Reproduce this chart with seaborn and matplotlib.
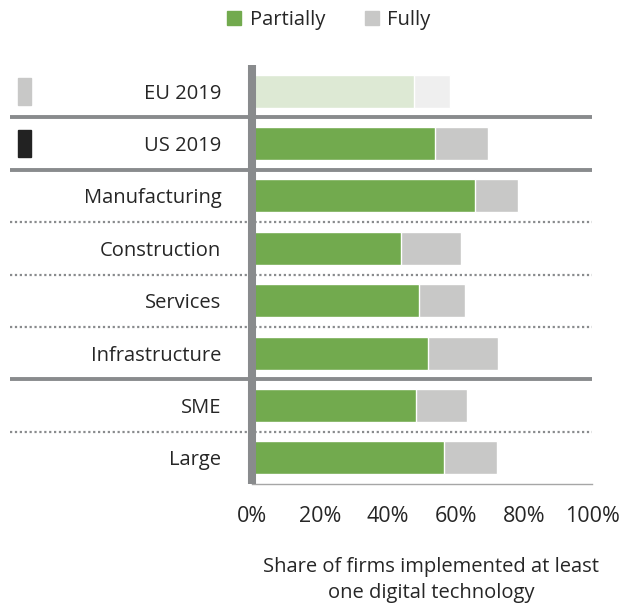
import numpy as np
import pandas as pd
import seaborn as sns
import matplotlib.pyplot as plt
import matplotlib.transforms as mtransforms
from matplotlib.patches import Rectangle, Patch

categories = ['EU 2019', 'US 2019', 'Manufacturing', 'Construction',
              'Services', 'Infrastructure', 'SME', 'Large']
partially = [47.6, 53.9, 65.7, 43.9, 49.2, 51.9, 48.3, 56.4]
fully = [10.6, 15.4, 12.5, 17.5, 13.3, 20.5, 14.8, 15.6]
xticks = [0, 20, 40, 60, 80, 100]
xlabel = 'Share of firms implemented at least\none digital technology'

green = '#72aa4e'
grey = '#c8c8c7'
green_faded = '#dde9d4'
grey_faded = '#efefef'
line_grey = '#898b8d'
text_col = '#262626'

data = pd.DataFrame({'cat': categories, 'partially': partially, 'fully': fully})
data['total'] = data['partially'] + data['fully']

sns.set_style('white')
plt.rcParams['font.family'] = ['Open Sans', 'DejaVu Sans']
plt.rcParams['font.size'] = 14.5

fig = plt.figure(figsize=(6.32, 6.05), dpi=100)
ax = fig.add_axes([252 / 632, 1 - 484 / 605, 340 / 632, 419 / 605])

grey_pal = [grey_faded] + [grey] * (len(categories) - 1)
green_pal = [green_faded] + [green] * (len(categories) - 1)

# totals in grey first, partial share in green drawn over them
sns.barplot(data=data, x='total', y='cat', hue='cat', palette=grey_pal,
            orient='h', width=0.63, edgecolor='white', linewidth=1,
            saturation=1, legend=False, ax=ax)
sns.barplot(data=data, x='partially', y='cat', hue='cat', palette=green_pal,
            orient='h', width=0.63, edgecolor='white', linewidth=1,
            saturation=1, legend=False, ax=ax)

ax.set_xlim(0, 100)
ax.set_ylim(len(categories) - 0.5, -0.5)
ax.set_xticks(xticks)
ax.set_xticklabels([f'{t}%' for t in xticks], color=text_col, fontsize=15.5)
ax.tick_params(axis='x', length=8, width=1, color='#a6a6a6', pad=8, direction='out')
ax.tick_params(axis='y', length=0, pad=22, labelsize=14.5, labelcolor=text_col)
ax.set_ylabel('')
ax.set_xlabel(xlabel, fontsize=14.5, color=text_col, linespacing=1.4)
ax.xaxis.set_label_coords((431 - 252) / 340, -0.175)
ax.xaxis.label.set_verticalalignment('top')

for s in ['top', 'right', 'left']:
    ax.spines[s].set_visible(False)
ax.spines['bottom'].set_color('#a6a6a6')
ax.spines['bottom'].set_linewidth(1)

# thick vertical axis line
ax.axvline(0, color=line_grey, lw=5.8, zorder=5, clip_on=False,
           solid_capstyle='butt')

# group separators
x_start = (10 - 252) / 340
for yy in [0.5, 1.5, 5.5]:
    ax.axhline(yy, xmin=x_start, xmax=1, color=line_grey, lw=2.8,
               clip_on=False, zorder=4, solid_capstyle='butt')
for yy in [2.5, 3.5, 4.5, 6.5]:
    ax.axhline(yy, xmin=x_start, xmax=1, color=line_grey, lw=1.6,
               linestyle=(0, (1, 1.2)), clip_on=False, zorder=4)

# small region markers
trans = mtransforms.blended_transform_factory(fig.transFigure, ax.transData)
for i, c in [(0, grey), (1, '#222222')]:
    ax.add_patch(Rectangle((18 / 632, i - 0.26), 13 / 632, 0.52,
                           transform=trans, color=c, clip_on=False))

handles = [Patch(color=green, label='Partially'), Patch(color=grey, label='Fully')]
fig.legend(handles=handles, loc='center', bbox_to_anchor=(329 / 632, 1 - 20 / 605),
           ncol=2, frameon=False, handlelength=0.7, handleheight=0.7,
           handletextpad=0.4, columnspacing=2.0, fontsize=14.5, labelcolor=text_col)

fig.savefig('out.png', dpi=100)
